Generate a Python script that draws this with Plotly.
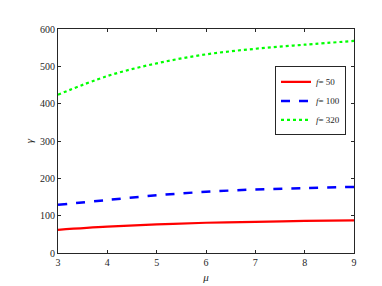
import plotly.graph_objects as go

mu = [3, 4, 5, 6, 7, 8, 9]
gamma_f50 = [62, 70.5, 76.5, 81, 83.5, 86, 87.5]
gamma_f100 = [129, 142, 154.5, 164, 170, 174, 177]
gamma_f320 = [424, 474, 508, 532, 547, 558, 568]
names = ["<i>f</i>= 50", "<i>f</i>= 100", "<i>f</i>= 320"]
xticks = [3, 4, 5, 6, 7, 8, 9]
yticks = [0, 100, 200, 300, 400, 500, 600]

SERIF = "Liberation Serif, Times New Roman, serif"

fig = go.Figure()
fig.add_trace(go.Scatter(x=mu, y=gamma_f50, name=names[0], mode="lines",
                         line=dict(color="#ff0000", width=2.2, shape="spline")))
fig.add_trace(go.Scatter(x=mu, y=gamma_f100, name=names[1], mode="lines",
                         line=dict(color="#0000ff", width=2.5, dash="dash", shape="spline")))
fig.add_trace(go.Scatter(x=mu, y=gamma_f320, name=names[2], mode="lines",
                         line=dict(color="#00ff00", width=2.2, dash="dot", shape="spline")))

axcommon = dict(showgrid=False, zeroline=False, showline=True, linecolor="#262626",
                linewidth=1, mirror="ticks", ticks="inside", ticklen=3,
                tickcolor="#262626", tickfont=dict(family=SERIF, size=10, color="#262626"))
fig.update_xaxes(range=[3, 9], tickvals=xticks, title=dict(text="<i>μ</i>", standoff=6,
                 font=dict(family=SERIF, size=11, color="#262626")), **axcommon)
fig.update_yaxes(range=[0, 600], tickvals=yticks, title=dict(text="<i>γ</i>", standoff=4,
                 font=dict(family=SERIF, size=11, color="#262626")), **axcommon)

fig.update_layout(
    width=382, height=286,
    margin=dict(l=50, r=36, t=21, b=32),
    paper_bgcolor="white", plot_bgcolor="white",
    font=dict(family=SERIF, size=10, color="#262626"),
    legend=dict(x=0.973, y=0.833, xanchor="right", yanchor="top",
                bordercolor="#262626", borderwidth=1, bgcolor="white",
                font=dict(family=SERIF, size=9),
                tracegroupgap=0, itemwidth=30),
    showlegend=True,
)
fig.write_html("out.html")
